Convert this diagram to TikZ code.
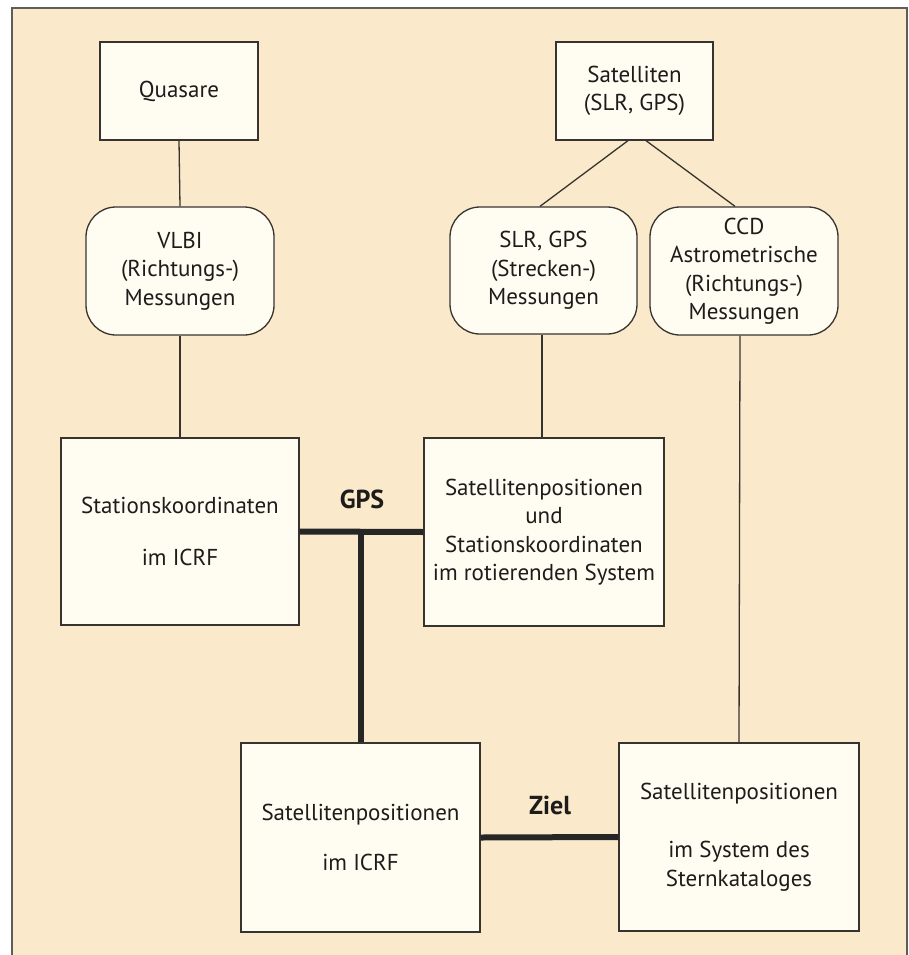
\documentclass[tikz,border=0pt]{standalone}
\usepackage{fontspec}
\setmainfont{PT Sans}
\definecolor{bgbeige}{RGB}{250,233,202}
\definecolor{boxfill}{RGB}{255,253,242}
\definecolor{linecol}{RGB}{55,52,48}
\definecolor{txtcol}{RGB}{30,28,26}
\tikzset{
  sqbox/.style={draw=linecol, line width=1.3pt, fill=boxfill, inner sep=0pt, align=center,
    text=txtcol, font=\fontsize{23}{28.5}\selectfont},
  rdbox/.style={sqbox, rounded corners=30pt},
  thinline/.style={draw=linecol, line width=1.3pt},
  thickline/.style={draw=black!85, line width=6pt},
  lbl/.style={text=txtcol, font=\fontsize{26}{30}\selectfont\bfseries}
}
\begin{document}
\begin{tikzpicture}[x=1pt,y=1pt]
\useasboundingbox (0,0) rectangle (909,-955);
\fill[white] (0,0) rectangle (909,-955);
\fill[bgbeige] (12,-8) rectangle (907,-960);
\draw[linecol!80, line width=1.3pt] (12,-960) -- (12,-8) -- (907,-8) -- (907,-960);

\node[sqbox, minimum width=158pt, minimum height=98pt] (quasare) at (179,-91) {Quasare};
\node[sqbox, minimum width=157pt, minimum height=98pt] (sat) at (634.5,-91) {Satelliten\\(SLR, GPS)};
\node[rdbox, minimum width=188pt, minimum height=128pt] (vlbi) at (180,-271) {VLBI\\(Richtungs-)\\Messungen};
\node[rdbox, minimum width=187pt, minimum height=127pt] (slr) at (543.5,-270.5) {SLR, GPS\\(Strecken-)\\Messungen};
\node[rdbox, minimum width=188pt, minimum height=128pt] (ccd) at (744,-271) {CCD\\Astrometrische\\(Richtungs-)\\Messungen};
\node[sqbox, minimum width=238pt, minimum height=187pt] (stat) at (180,-531.5) {Stationskoordinaten\\[23.5pt]im ICRF};
\node[sqbox, minimum width=240pt, minimum height=188pt] (satrot) at (544,-532) {Satellitenpositionen\\und\\Stationskoordinaten\\im rotierenden System};
\node[sqbox, minimum width=239pt, minimum height=189pt] (saticrf) at (360.5,-837.5) {Satellitenpositionen\\[21.5pt]im ICRF};
\node[sqbox, minimum width=240pt, minimum height=188pt] (satstern) at (739,-837) {Satellitenpositionen\\[30pt]im System des\\Sternkataloges};

\draw[thinline] (quasare.south) -- (vlbi.north);
\draw[thinline] (vlbi.south) -- (stat.north);
\draw[thinline] ([xshift=-6.5pt]sat.south) -- ([xshift=-3.5pt]slr.north);
\draw[thinline] ([xshift=11.5pt]sat.south) -- ([xshift=-9pt]ccd.north);
\draw[thinline] ([xshift=-1.5pt]slr.south) -- ([xshift=-2pt]satrot.north);
\draw[thinline] ([xshift=-4pt]ccd.south) -- (satstern.north);

\coordinate (junc) at (360.5,-532);
\draw[thickline] (stat.east) -- (satrot.west);
\draw[thickline] (junc) -- (saticrf.north);
\draw[thickline] (saticrf.east) -- (satstern.west);

\node[lbl] (gps) at (362,-499) {GPS};
\node[lbl] (ziel) at (550,-805) {Ziel};
\end{tikzpicture}
\end{document}
